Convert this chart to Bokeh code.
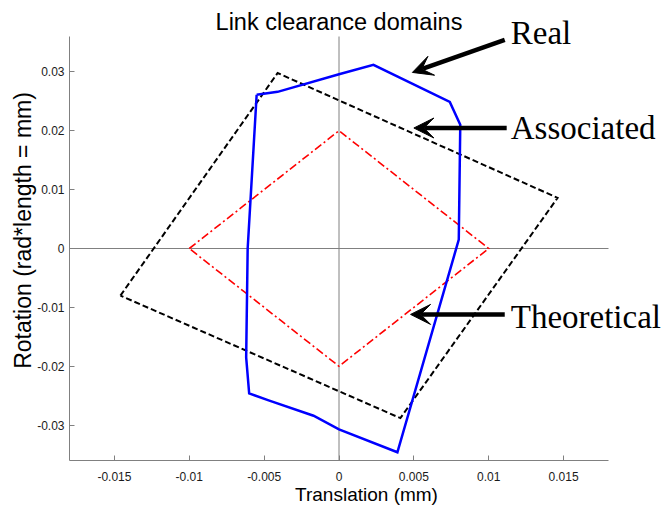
from bokeh.plotting import figure
from bokeh.models import Label, Arrow, VeeHead, FixedTicker, CustomJSTickFormatter, Range1d
from bokeh.embed import file_html
from bokeh.resources import INLINE

# ---- data ----
theo_x = [-0.010, 0.000, 0.010, 0.000, -0.010]
theo_y = [0.000, 0.020, 0.000, -0.020, 0.000]

assoc_x = [-0.0146, -0.0041, 0.0146, 0.0041, -0.0146]
assoc_y = [-0.0080, 0.0298, 0.0086, -0.0288, -0.0080]

real_x = [-0.0055, -0.0041, 0.0000, 0.0023, 0.0074, 0.0081, 0.0080, 0.0039,
          0.0000, -0.0017, -0.0047, -0.0060, -0.0062, -0.0061, -0.0055]
real_y = [0.0261, 0.0266, 0.0296, 0.0312, 0.0249, 0.0210, 0.0015, -0.0346,
          -0.0307, -0.0284, -0.0258, -0.0246, -0.0185, 0.0000, 0.0261]

x_ticks = [-0.015, -0.01, -0.005, 0, 0.005, 0.01, 0.015]
y_ticks = [-0.03, -0.02, -0.01, 0, 0.01, 0.02, 0.03]
x_min, x_max = -0.018, 0.018
y_min, y_max = -0.036, 0.036

title_text = "Link clearance domains"
x_label = "Translation (mm)"
y_label = "Rotation (rad*length = mm)"

# ---- figure ----
# the frame is larger than the drawn axes so that title and annotations are not clipped
axis_w, frame_w = 539, 594
axis_h, frame_h = 424, 460
x_right = x_min + (x_max - x_min) * frame_w / axis_w
y_top = y_min + (y_max - y_min) * frame_h / axis_h

p = figure(frame_width=frame_w, frame_height=frame_h,
           x_range=Range1d(x_min, x_right), y_range=Range1d(y_min, y_top),
           output_backend="svg", toolbar_location=None,
           min_border_left=69, min_border_right=2, min_border_top=0, min_border_bottom=40)
p.outline_line_color = None
p.xgrid.visible = False
p.ygrid.visible = False
p.background_fill_color = "white"
p.border_fill_color = "white"

fmt = CustomJSTickFormatter(code="return Number(tick.toFixed(4)).toString();")
for ax, ticks, lab in ((p.xaxis[0], x_ticks, x_label), (p.yaxis[0], y_ticks, y_label)):
    ax.ticker = FixedTicker(ticks=ticks)
    ax.formatter = fmt
    ax.minor_tick_line_color = None
    ax.major_tick_in = 5
    ax.major_tick_out = 0
    ax.axis_line_color = "#808080"
    ax.major_tick_line_color = "#808080"
    ax.major_label_text_font = "Liberation Sans"
    ax.major_label_text_font_size = "12px"
    ax.major_label_text_color = "#1a1a1a"
    ax.axis_label = lab
    ax.axis_label_text_font = "Liberation Sans"
    ax.axis_label_text_font_style = "normal"
    ax.axis_label_text_color = "black"

p.xaxis[0].bounds = (x_min, x_max)
p.yaxis[0].bounds = (y_min, y_max)
p.xaxis[0].major_label_standoff = 11
p.xaxis[0].axis_label_text_font_size = "19px"
p.xaxis[0].axis_label_standoff = 0
p.yaxis[0].major_label_standoff = 5
p.yaxis[0].axis_label_text_font_size = "23px"
p.yaxis[0].axis_label_standoff = -2

# zero lines
p.segment(x0=[x_min, 0], y0=[0, y_min], x1=[x_max, 0], y1=[0, y_max],
          line_color="#808080", line_width=1)

p.line(theo_x, theo_y, line_color="#FF0000", line_width=1.6, line_dash="8 3 2 3", line_join="miter")
p.line(assoc_x, assoc_y, line_color="black", line_width=2, line_dash="6 3", line_join="miter")
p.line(real_x, real_y, line_color="#0000FF", line_width=2.5, line_join="miter")

# title
p.add_layout(Label(x=(x_min + x_max) / 2, y=0.0384, text=title_text, text_font="Liberation Sans",
                   text_font_size="23.5px", text_color="black", text_align="center",
                   text_baseline="alphabetic"))

# ---- annotations ----
def arrow(xs, ys, xe, ye):
    p.add_layout(Arrow(end=VeeHead(size=20, fill_color="black", line_color="black", line_width=1),
                       x_start=xs, y_start=ys, x_end=xe, y_end=ye,
                       line_color="black", line_width=4.5))

arrow(0.01107, 0.03542, 0.00490, 0.02990)
arrow(0.01120, 0.02046, 0.00500, 0.02046)
arrow(0.01107, -0.01119, 0.00478, -0.01119)

for txt, ly in (("Real", 0.03655), ("Associated", 0.02045), ("Theoretical", -0.01158)):
    p.add_layout(Label(x=0.01147, y=ly, text=txt, text_font="Liberation Serif",
                       text_font_size="33px", text_color="black", text_baseline="alphabetic"))

open("out.html", "w").write(file_html(p, INLINE))
